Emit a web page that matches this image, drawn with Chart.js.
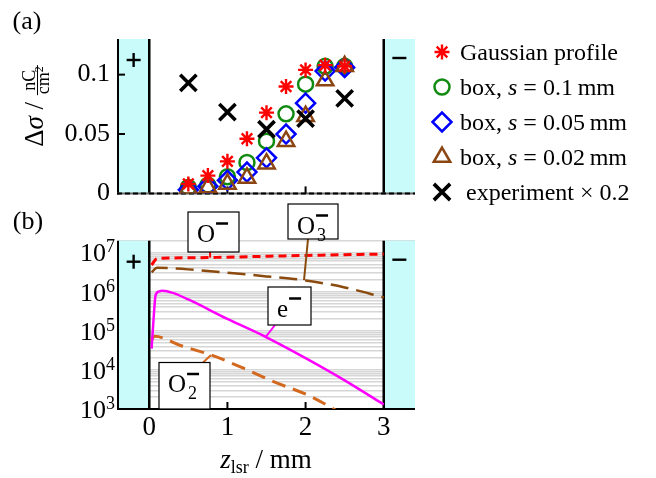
<!DOCTYPE html>
<html>
<head>
<meta charset="utf-8">
<script src="https://cdn.jsdelivr.net/npm/chart.js@4.4.1/dist/chart.umd.min.js"></script>
<style>
  html, body { margin: 0; padding: 0; background: #fff; }
  #wrap { position: relative; width: 656px; height: 478px; overflow: hidden; }
  #wrap canvas { position: absolute; left: 0; }
  #chartA { top: 0; }
  #chartB { top: 200px; }
</style>
</head>
<body>
<div id="wrap">
  <canvas id="chartA" width="656" height="217"></canvas>
  <canvas id="chartB" width="656" height="278"></canvas>
</div>
<script>
// Panel (a): charge difference vs laser position
const zSim = [0.5, 0.75, 1, 1.25, 1.5, 1.75, 2, 2.25, 2.5];
const sigGauss = [0.008, 0.015, 0.027, 0.046, 0.068, 0.090, 0.104, 0.108, 0.107];
const sigBox01 = [0.005, 0.007, 0.014, 0.026, 0.044, 0.067, 0.092, 0.107, 0.107];
const sigBox005 = [0.003, 0.006, 0.011, 0.018, 0.030, 0.050, 0.076, 0.103, 0.106];
const sigBox002 = [0.004, 0.005, 0.008, 0.013, 0.025, 0.044, 0.065, 0.095, 0.107];
const zExp = [0.5, 1, 1.5, 2, 2.5];
const sigExp = [0.093, 0.0685, 0.054, 0.063, 0.080];
const yTicksA = [0, 0.05, 0.1];
const yTickLabelsA = ['0', '0.05', '0.1'];

// Panel (b): negative ion / electron densities
const zOm = [0.03, 0.1, 0.5, 1, 1.5, 2, 2.5, 3];
const nOm = [4.8e6, 7.0e6, 7.3e6, 7.6e6, 8.0e6, 8.4e6, 8.8e6, 9.1e6];
const zO3m = [0.03, 0.1, 0.5, 1, 1.5, 2, 2.5, 3];
const nO3m = [3.1e6, 4.1e6, 3.7e6, 3.05e6, 2.45e6, 1.93e6, 1.28e6, 7.1e5];
const zEl = [0.03, 0.06, 0.08, 0.12, 0.17, 0.3, 0.5, 1, 1.5, 2, 2.5, 3];
const nEl = [3.5e4, 2.8e5, 7.9e5, 1.0e6, 1.05e6, 9.3e5, 6.3e5, 2.0e5, 6.8e4, 2.0e4, 5.4e3, 1.3e3];
const zO2m = [0.02, 0.07, 0.4, 0.79, 1.2, 1.59, 2.02, 2.34, 2.6];
const nO2m = [5.6e4, 7.2e4, 4.2e4, 2.4e4, 1.12e4, 5.0e3, 2.3e3, 1.05e3, 5.0e2];
const xTicks = [0, 1, 2, 3];
const decades = [3, 4, 5, 6, 7];

const CYAN = '#c9fbfb';
const SERIF = '"Liberation Serif", "Times New Roman", serif';
Chart.defaults.font.family = SERIF;
Chart.defaults.color = '#000';

function font(size, italic) { return (italic ? 'italic ' : '') + size + 'px ' + SERIF; }
function segWidth(ctx, s) { ctx.font = font(s[1], s[2]); return ctx.measureText(s[0]).width; }
function richWidth(ctx, segs) { return segs.reduce((w, s) => w + segWidth(ctx, s), 0); }
function drawRich(ctx, segs, x, y, align) {
    const w = richWidth(ctx, segs);
    let cx = x;
    if (align === 'center') cx -= w / 2;
    if (align === 'right') cx -= w;
    ctx.textAlign = 'left';
    ctx.textBaseline = 'alphabetic';
    segs.forEach(s => {
        ctx.font = font(s[1], s[2]);
        ctx.fillText(s[0], cx, y + (s[3] || 0));
        cx += ctx.measureText(s[0]).width;
    });
    return w;
}
function line(ctx, x1, y1, x2, y2) {
    ctx.beginPath();
    ctx.moveTo(x1, y1);
    ctx.lineTo(x2, y2);
    ctx.stroke();
}
const pts = (xs, ys) => xs.map((x, i) => ({ x: x, y: ys[i] }));

// cyan electrode areas, electrode lines and the +/- signs
function drawElectrodes(chart) {
    const { ctx, chartArea: a, scales: { x } } = chart;
    const x0 = x.getPixelForValue(0), x3 = x.getPixelForValue(3);
    ctx.save();
    ctx.fillStyle = CYAN;
    ctx.fillRect(a.left, a.top, x0 - a.left, a.bottom - a.top);
    ctx.fillRect(x3, a.top, a.right - x3, a.bottom - a.top);
    ctx.strokeStyle = '#000';
    ctx.lineWidth = 2.5;
    line(ctx, x0, a.top, x0, a.bottom);
    line(ctx, x3, a.top, x3, a.bottom);
    // + on the anode side, - on the cathode side
    const px = (a.left + x0) / 2, mx = (x3 + a.right) / 2, sy = a.top + 21;
    ctx.lineWidth = 2.4;
    line(ctx, px - 7, sy, px + 7, sy);
    line(ctx, px, sy - 7, px, sy + 7);
    line(ctx, mx - 7, sy - 2, mx + 7, sy - 2);
    ctx.restore();
}

function drawFrame(chart, xt, yt, dashedBottom) {
    const { ctx, chartArea: a, scales: { x, y } } = chart;
    ctx.save();
    ctx.strokeStyle = '#000';
    ctx.lineWidth = 2;
    line(ctx, a.left, a.top, a.left, a.bottom + 1);
    if (dashedBottom) {
        ctx.strokeStyle = '#666';
        line(ctx, a.left - 1, a.bottom, a.right, a.bottom);
        ctx.strokeStyle = '#000';
        ctx.setLineDash([5, 3]);
        line(ctx, a.left - 1, a.bottom, a.right, a.bottom);
        ctx.setLineDash([]);
    } else {
        line(ctx, a.left - 1, a.bottom, a.right, a.bottom);
    }
    xt.forEach(v => {
        const px = x.getPixelForValue(v);
        line(ctx, px, a.bottom, px, a.bottom - 7);
    });
    yt.forEach(v => {
        const py = y.getPixelForValue(v);
        line(ctx, a.left, py, a.left + 7, py);
    });
    ctx.restore();
}

// ---------- Panel (a) ----------
const panelA = {
    id: 'panelA',
    beforeDatasetsDraw(chart) {
        drawElectrodes(chart);
        drawFrame(chart, [1, 2], [0.05, 0.1], true);
    },
    afterDraw(chart) {
        const ctx = chart.ctx;
        ctx.save();
        ctx.fillStyle = '#000';
        ctx.font = font(26);
        ctx.textAlign = 'center';
        ctx.textBaseline = 'middle';
        ctx.fillText('(a)', 27, 22);

        // y title: Δσ / (nC / cm²)
        ctx.translate(36, 106);
        ctx.rotate(-Math.PI / 2);
        const head = [['\u0394', 27, false], ['\u03c3', 27, true], [' / ', 27, false]];
        const num = [['nC', 18, false]];
        const den = [['cm', 18, false], ['2', 12, false, -6]];
        const fw = Math.max(richWidth(ctx, num), richWidth(ctx, den)) + 2;
        const total = richWidth(ctx, head) + fw;
        const x0 = -total / 2;
        drawRich(ctx, head, x0, 7);
        const fc = x0 + total - fw / 2;
        drawRich(ctx, num, fc, -1, 'center');
        drawRich(ctx, den, fc, 12.5, 'center');
        ctx.lineWidth = 1;
        ctx.strokeStyle = '#000';
        line(ctx, fc - fw / 2, 1.5, fc + fw / 2, 1.5);
        ctx.restore();

        // legend
        chart.data.datasets.forEach((ds, i) => {
            const cy = 52 + 35 * i;
            ctx.save();
            ctx.strokeStyle = ds.borderColor;
            ctx.fillStyle = 'rgba(0,0,0,0)';
            ctx.lineWidth = ds.borderWidth;
            Chart.helpers.drawPoint(ctx, {
                pointStyle: ds.pointStyle, radius: ds.pointRadius,
                rotation: 0, borderWidth: ds.borderWidth
            }, 442, cy);
            ctx.fillStyle = '#000';
            const segs = ds.label.split(/(\bs\b)/).filter(Boolean).map(t => [t, 24, t === 's']);
            drawRich(ctx, segs, 460, cy + 8);
            ctx.restore();
        });
    }
};

new Chart(document.getElementById('chartA'), {
    type: 'scatter',
    data: {
        datasets: [
            { label: 'Gaussian profile', data: pts(zSim, sigGauss), pointStyle: 'star',
              pointRadius: 7.5, borderWidth: 2.4, borderColor: '#ff0000', backgroundColor: 'rgba(0,0,0,0)', order: 0 },
            { label: 'box, s = 0.1\u2009mm', data: pts(zSim, sigBox01), pointStyle: 'circle',
              pointRadius: 7.5, borderWidth: 2.5, borderColor: '#108a10', backgroundColor: 'rgba(0,0,0,0)', order: 4 },
            { label: 'box, s = 0.05\u2009mm', data: pts(zSim, sigBox005), pointStyle: 'rectRot',
              pointRadius: 9.5, borderWidth: 2.5, borderColor: '#0000ff', backgroundColor: 'rgba(0,0,0,0)', order: 3 },
            { label: 'box, s = 0.02\u2009mm', data: pts(zSim, sigBox002), pointStyle: 'triangle',
              pointRadius: 9.5, borderWidth: 2.5, borderColor: '#8b4513', backgroundColor: 'rgba(0,0,0,0)', order: 2 },
            { label: ' experiment \u00d7 0.2', data: pts(zExp, sigExp), pointStyle: 'crossRot',
              pointRadius: 11.5, borderWidth: 3.6, borderColor: '#000000', backgroundColor: 'rgba(0,0,0,0)', order: 1 }
        ]
    },
    options: {
        responsive: false,
        animation: false,
        events: [],
        layout: { padding: { left: 0, right: 241, top: 39, bottom: 16 } },
        plugins: { legend: { display: false }, tooltip: { enabled: false } },
        scales: {
            x: { type: 'linear', min: -0.4, max: 3.4, display: false },
            y: {
                type: 'linear', min: 0, max: 0.13,
                afterBuildTicks: s => { s.ticks = yTicksA.map(v => ({ value: v })); },
                afterFit: s => { s.width = 118; },
                grid: { display: false, drawTicks: false },
                border: { display: false },
                ticks: { font: { size: 26 }, padding: 8, callback: (v, i) => yTickLabelsA[i] }
            }
        }
    },
    plugins: [panelA]
});

// ---------- Panel (b) ----------
const tags = [
    { main: 'O', sub: '', color: '#ff0000', box: [188, 12, 51, 40], from: [210, 52], to: [0.78, 7.4e6] },
    { main: 'O', sub: '3', color: '#8b4a0e', box: [288, 4, 50, 35], from: [308, 39], to: [1.98, 1.96e6] },
    { main: 'e', sub: '', color: '#ff00ff', box: [268, 87, 43, 38], from: [275, 125], to: [1.49, 7.0e4] },
    { main: 'O', sub: '2', color: '#d2691e', box: [159, 162.5, 51, 46.5], from: [203, 162.5], to: [0.79, 2.4e4] }
];

const panelB = {
    id: 'panelB',
    beforeDatasetsDraw(chart) {
        drawElectrodes(chart);
        drawFrame(chart, [1, 2], [], false);
    },
    afterDraw(chart) {
        const { ctx, chartArea: a, scales: { x, y } } = chart;
        ctx.save();
        ctx.fillStyle = '#000';
        ctx.font = font(26);
        ctx.textAlign = 'center';
        ctx.textBaseline = 'middle';
        ctx.fillText('(b)', 28, 22);

        // log tick labels 10^n
        decades.forEach(d => {
            const py = y.getPixelForValue(Math.pow(10, d));
            drawRich(ctx, [['10', 26, false], [String(d), 18, false, -9]], a.left - 3, py + 9, 'right');
        });

        // x title
        drawRich(ctx, [['z', 27, true], ['lsr', 18, false, 5], [' / mm', 27, false]], 266, 268, 'center');

        // y title
        ctx.save();
        ctx.translate(34, 328);
        ctx.rotate(-Math.PI / 2);
        drawRich(ctx, [['n', 27, true], [' / cm', 27, false], ['\u22123', 18, false, -10]], 0, 5, 'center');
        ctx.restore();

        // species labels with leader lines
        tags.forEach(t => {
            const [bx, by, bw, bh] = t.box;
            const tx = x.getPixelForValue(t.to[0]), ty = y.getPixelForValue(t.to[1]);
            ctx.strokeStyle = t.color;
            ctx.lineWidth = 2;
            line(ctx, t.from[0], t.from[1], tx, ty);
            ctx.fillStyle = '#fff';
            ctx.fillRect(bx, by, bw, bh);
            ctx.strokeStyle = '#000';
            ctx.lineWidth = 1.2;
            ctx.strokeRect(bx, by, bw, bh);
            ctx.fillStyle = '#000';
            const base = by + 29.5;
            const w = drawRich(ctx, [[t.main, 25, false]], bx + 9, base);
            const sx = bx + 9 + w + 1;
            ctx.lineWidth = 2.5;
            line(ctx, sx, base - 18, sx + 12, base - 18);
            if (t.sub) drawRich(ctx, [[t.sub, 18, false]], sx + 1, base + 7);
        });
        ctx.restore();
    }
};

new Chart(document.getElementById('chartB'), {
    type: 'scatter',
    data: {
        datasets: [
            { label: 'O-', data: pts(zOm, nOm), showLine: true, pointRadius: 0, borderColor: '#ff0000',
              borderWidth: 3, borderDash: [8, 5], cubicInterpolationMode: 'monotone' },
            { label: 'O3-', data: pts(zO3m, nO3m), showLine: true, pointRadius: 0, borderColor: '#8b4a0e',
              borderWidth: 2.5, borderDash: [18, 8], cubicInterpolationMode: 'monotone' },
            { label: 'e-', data: pts(zEl, nEl), showLine: true, pointRadius: 0, borderColor: '#ff00ff',
              borderWidth: 2.5, cubicInterpolationMode: 'monotone' },
            { label: 'O2-', data: pts(zO2m, nO2m), showLine: true, pointRadius: 0, borderColor: '#d2691e',
              borderWidth: 3, borderDash: [14, 8], cubicInterpolationMode: 'monotone' }
        ]
    },
    options: {
        responsive: false,
        animation: false,
        events: [],
        layout: { padding: { left: 0, right: 241, top: 40.7, bottom: 0 } },
        plugins: { legend: { display: false }, tooltip: { enabled: false } },
        scales: {
            x: {
                type: 'linear', min: -0.4, max: 3.4,
                afterBuildTicks: s => { s.ticks = xTicks.map(v => ({ value: v })); },
                afterFit: s => { s.height = 69; },
                grid: { display: false, drawTicks: false },
                border: { display: false },
                ticks: { font: { size: 27 }, padding: 3, maxRotation: 0, autoSkip: false }
            },
            y: {
                type: 'logarithmic', min: 1e3, max: 2e7,
                afterBuildTicks: s => {
                    const t = [];
                    decades.forEach(d => {
                        for (let m = 1; m <= 9; m++) {
                            const v = m * Math.pow(10, d);
                            if (v <= 2e7) t.push({ value: v });
                        }
                    });
                    s.ticks = t;
                },
                afterFit: s => { s.width = 118; },
                grid: { color: '#d6d6d6', lineWidth: 1.5, drawTicks: false },
                border: { display: false },
                ticks: { display: false }
            }
        }
    },
    plugins: [panelB]
});
</script>
</body>
</html>
